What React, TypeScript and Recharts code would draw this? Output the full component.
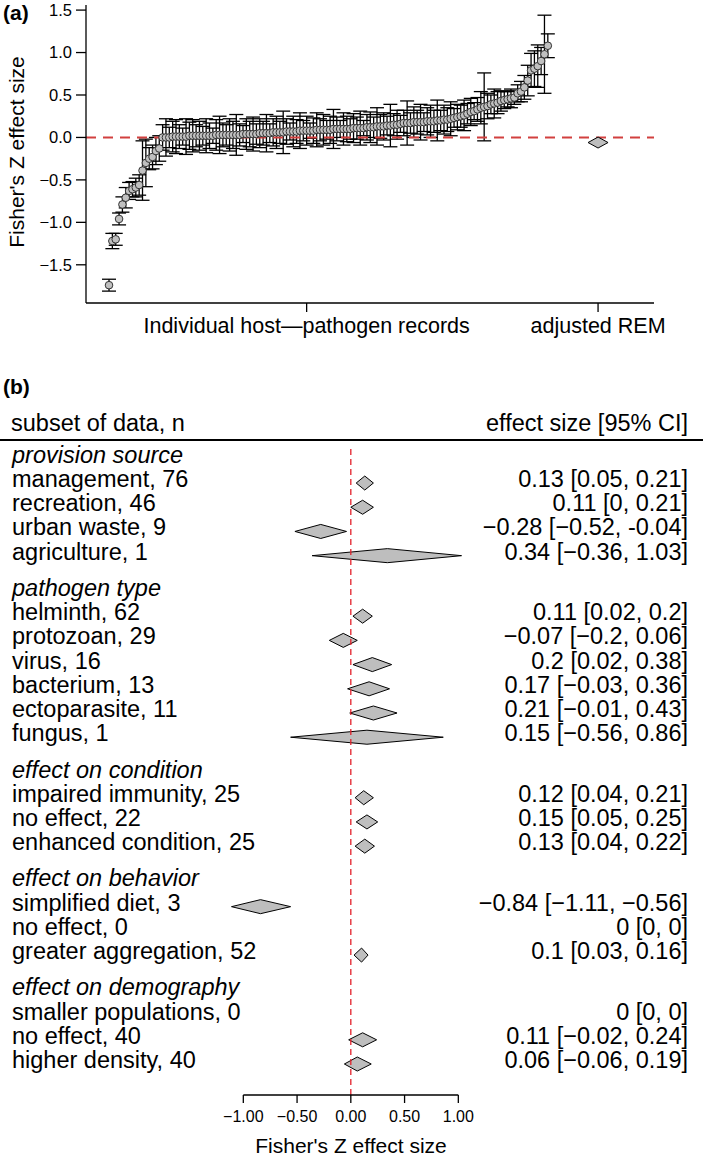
import React from 'react';
import { ScatterChart, Scatter, ComposedChart, Area, XAxis, YAxis, ErrorBar, ReferenceLine } from 'recharts';

const FONT = '"Liberation Sans", Arial, Helvetica, sans-serif';

// ---- panel (a): individual host-pathogen records, sorted by effect size
const recordEffects = [
    -1.74, -1.22, -1.2, -0.96, -0.79, -0.71, -0.63, -0.61, -0.59, -0.56, -0.39, -0.3, -0.25, -0.23, -0.16, -0.13,
    0.0, 0.0, 0.0, 0.01, 0.01, 0.01, 0.01, 0.01, 0.02, 0.02, 0.02, 0.02,
    0.02, 0.02, 0.02, 0.02, 0.03, 0.03, 0.03, 0.03, 0.03, 0.03, 0.03, 0.03, 0.04, 0.04, 0.04,
    0.04, 0.04, 0.05, 0.05, 0.05, 0.05, 0.06, 0.06, 0.06, 0.06, 0.07, 0.07, 0.07, 0.07, 0.08,
    0.08, 0.08, 0.08, 0.08, 0.09, 0.09, 0.09, 0.09, 0.09, 0.1, 0.1, 0.1, 0.1, 0.1, 0.1,
    0.11, 0.11, 0.11, 0.11, 0.12, 0.12, 0.12, 0.13, 0.13, 0.13, 0.14, 0.14, 0.15, 0.15, 0.16,
    0.17, 0.17, 0.17, 0.18, 0.18, 0.18, 0.18, 0.19, 0.19, 0.19, 0.2, 0.2, 0.21, 0.21, 0.22, 0.23, 0.24,
    0.25, 0.26, 0.28, 0.3, 0.31, 0.33, 0.35, 0.36, 0.37, 0.39, 0.4, 0.41, 0.43, 0.44, 0.45, 0.46, 0.47,
    0.52, 0.54, 0.59, 0.67, 0.79, 0.81, 0.84, 0.9, 0.98, 1.08,
];
// half-width of each 95% CI
const recordErrors = [
    0.07, 0.09, 0.07, 0.07, 0.09, 0.12, 0.1, 0.09, 0.11, 0.12, 0.35, 0.28, 0.13, 0.14, 0.16, 0.15,
    0.15, 0.22, 0.12, 0.18, 0.2, 0.14, 0.1, 0.21, 0.16, 0.19, 0.13, 0.17,
    0.11, 0.2, 0.15, 0.09, 0.18, 0.22, 0.14, 0.12, 0.19, 0.16, 0.24, 0.13, 0.1, 0.18, 0.15,
    0.2, 0.12, 0.17, 0.14, 0.22, 0.11, 0.16, 0.19, 0.13, 0.25, 0.15, 0.1, 0.18, 0.14, 0.21,
    0.12, 0.17, 0.09, 0.15, 0.2, 0.13, 0.18, 0.11, 0.16, 0.23, 0.14, 0.1, 0.19, 0.15, 0.12,
    0.17, 0.13, 0.2, 0.09, 0.15, 0.18, 0.12, 0.22, 0.14, 0.16, 0.11, 0.25, 0.13, 0.17, 0.1,
    0.15, 0.26, 0.12, 0.18, 0.14, 0.21, 0.11, 0.16, 0.19, 0.13, 0.24, 0.12, 0.17, 0.14, 0.2, 0.11, 0.15,
    0.13, 0.18, 0.12, 0.16, 0.1, 0.14, 0.19, 0.4, 0.15, 0.11, 0.17, 0.13, 0.12, 0.1, 0.09, 0.11, 0.08,
    0.1, 0.12, 0.14, 0.18, 0.2, 0.21, 0.25, 0.16, 0.46, 0.14,
];
const remEffect = -0.06;
const remPosition = 146;
const xTickPositionsA = [59, remPosition];
const xTickLabelsA = ['Individual host\u2014pathogen records', 'adjusted REM'];
const yTicksA = [-1.5, -1, -0.5, 0, 0.5, 1, 1.5];

// ---- panel (b): subsets
const groupNames = ['provision source', 'pathogen type', 'effect on condition', 'effect on behavior', 'effect on demography'];
const subsetNames = [
    ['management', 'recreation', 'urban waste', 'agriculture'],
    ['helminth', 'protozoan', 'virus', 'bacterium', 'ectoparasite', 'fungus'],
    ['impaired immunity', 'no effect', 'enhanced condition'],
    ['simplified diet', 'no effect', 'greater aggregation'],
    ['smaller populations', 'no effect', 'higher density'],
];
const subsetN = [[76, 46, 9, 1], [62, 29, 16, 13, 11, 1], [25, 22, 25], [3, 0, 52], [0, 40, 40]];
const estimates = [[0.13, 0.11, -0.28, 0.34], [0.11, -0.07, 0.2, 0.17, 0.21, 0.15], [0.12, 0.15, 0.13], [-0.84, 0, 0.1], [0, 0.11, 0.06]];
const ciLow = [[0.05, 0, -0.52, -0.36], [0.02, -0.2, 0.02, -0.03, -0.01, -0.56], [0.04, 0.05, 0.04], [-1.11, 0, 0.03], [0, -0.02, -0.06]];
const ciHigh = [[0.21, 0.21, -0.04, 1.03], [0.2, 0.06, 0.38, 0.36, 0.43, 0.86], [0.21, 0.25, 0.22], [-0.56, 0, 0.16], [0, 0.24, 0.19]];
const ciLabels = [
    ['0.13 [0.05, 0.21]', '0.11 [0, 0.21]', '\u22120.28 [\u22120.52, -0.04]', '0.34 [\u22120.36, 1.03]'],
    ['0.11 [0.02, 0.2]', '\u22120.07 [\u22120.2, 0.06]', '0.2 [0.02, 0.38]', '0.17 [\u22120.03, 0.36]', '0.21 [\u22120.01, 0.43]', '0.15 [\u22120.56, 0.86]'],
    ['0.12 [0.04, 0.21]', '0.15 [0.05, 0.25]', '0.13 [0.04, 0.22]'],
    ['\u22120.84 [\u22121.11, \u22120.56]', '0 [0, 0]', '0.1 [0.03, 0.16]'],
    ['0 [0, 0]', '0.11 [\u22120.02, 0.24]', '0.06 [\u22120.06, 0.19]'],
];
const xTicksB = [-1, -0.5, 0, 0.5, 1];

const GROUP_GAP = 1.5;
const DIAMOND_HALF = 0.29;
const Y_DOMAIN_B: [number, number] = [-1.53, 25.28];

type Row = { pos: number; label: string; header: boolean; ci?: string; n?: number; est?: number; lo?: number; hi?: number };
const rows: Row[] = [];
let start = 0;
groupNames.forEach((g, gi) => {
    rows.push({ pos: start - 1, label: g, header: true });
    subsetNames[gi].forEach((name, k) => {
        rows.push({
            pos: start + k,
            label: `${name}, ${subsetN[gi][k]}`,
            header: false,
            ci: ciLabels[gi][k],
            n: subsetN[gi][k],
            est: estimates[gi][k],
            lo: ciLow[gi][k],
            hi: ciHigh[gi][k],
        });
    });
    start += subsetNames[gi].length + GROUP_GAP;
});

const records = recordEffects.map((v, i) => ({ i, v, err: recordErrors[i] }));
const rem = [{ i: remPosition, v: remEffect }];

const minus = (s: string) => s.replace('-', '\u2212');

function PointShape(props: any) {
    const { cx, cy } = props;
    return <circle cx={cx} cy={cy} r={3.8} fill="#c0c0c0" stroke="#333" strokeWidth={1} />;
}

function RemShape(props: any) {
    const { cx, cy } = props;
    return <polygon points={`${cx - 10},${cy} ${cx},${cy - 5.5} ${cx + 10},${cy} ${cx},${cy + 5.5}`} fill="#bebebe" stroke="#000" strokeWidth={1} />;
}

// left label + right CI text for each row of panel (b)
function RowTick(props: any) {
    const { y, payload } = props;
    const row = rows.find(r => Math.abs(r.pos - payload.value) < 1e-6);
    if (!row) return null;
    return (
        <g>
            <text x={12} y={y - 4} dominantBaseline="central" fontSize={23.5} fontFamily={FONT} fontStyle={row.header ? 'italic' : 'normal'} fill="#000">
                {row.label}
            </text>
            {row.ci && (
                <text x={688} y={y - 4} dominantBaseline="central" textAnchor="end" fontSize={23.5} fontFamily={FONT} fill="#000">
                    {row.ci}
                </text>
            )}
        </g>
    );
}

export default function App() {
    const diamondRows = rows.filter(r => !r.header && (r.n ?? 0) > 0);
    return (
        <div style={{ position: 'absolute', left: 0, top: 0, width: 703, height: 1155, background: '#fff', fontFamily: FONT, color: '#000' }}>
            {/* panel (a) */}
            <div style={{ position: 'absolute', left: 3, top: 1, fontSize: 21, fontWeight: 'bold' }}>(a)</div>
            <div style={{ position: 'absolute', left: 0, top: 0 }}>
                <ScatterChart width={703} height={360} margin={{ top: 5, right: 49, bottom: 0, left: 0 }}>
                    <XAxis
                        type="number"
                        dataKey="i"
                        domain={[-6.87, 162.7]}
                        allowDataOverflow
                        ticks={xTickPositionsA}
                        interval={0}
                        tickFormatter={(v: number) => xTickLabelsA[xTickPositionsA.indexOf(v)] ?? ''}
                        tickSize={9}
                        tickMargin={6}
                        height={57}
                        stroke="#000"
                        strokeWidth={1.3}
                        tick={{ fontSize: 21.5, fill: '#000', fontFamily: FONT }}
                    />
                    <YAxis
                        type="number"
                        dataKey="v"
                        domain={[-1.95, 1.56]}
                        allowDataOverflow
                        ticks={yTicksA}
                        interval={0}
                        width={86}
                        tickSize={10}
                        tickMargin={4}
                        stroke="#000"
                        strokeWidth={1.3}
                        tickFormatter={(v: number) => minus(v.toFixed(1))}
                        tick={{ fontSize: 16.5, fill: '#000', fontFamily: FONT }}
                    />
                    <Scatter data={records} shape={PointShape} isAnimationActive={false}>
                        <ErrorBar dataKey="err" direction="y" width={7} stroke="#000" strokeWidth={1.3} />
                    </Scatter>
                    <ReferenceLine y={0} stroke="#d2403f" strokeWidth={2} strokeDasharray="10 7" />
                    <Scatter data={rem} shape={RemShape} isAnimationActive={false} />
                </ScatterChart>
            </div>
            <div
                style={{
                    position: 'absolute',
                    left: 17,
                    top: 152,
                    fontSize: 21,
                    whiteSpace: 'nowrap',
                    transform: 'translate(-50%, -50%) rotate(-90deg)',
                }}
            >
                Fisher's Z effect size
            </div>

            {/* panel (b) */}
            <div style={{ position: 'absolute', left: 3, top: 375, fontSize: 21, fontWeight: 'bold' }}>(b)</div>
            <div style={{ position: 'absolute', left: 11, top: 423, fontSize: 23.5, transform: 'translateY(-50%)', whiteSpace: 'nowrap' }}>
                subset of data, n
            </div>
            <div style={{ position: 'absolute', right: 15, top: 423, fontSize: 23.5, transform: 'translateY(-50%)', whiteSpace: 'nowrap' }}>
                effect size [95% CI]
            </div>
            <div style={{ position: 'absolute', left: 0, top: 439, width: 703, height: 2, background: '#000' }} />
            <div style={{ position: 'absolute', left: 0, top: 440 }}>
                <ComposedChart width={703} height={715} margin={{ top: 6, right: 0, bottom: 0, left: 0 }}>
                    <XAxis
                        type="number"
                        dataKey="x"
                        domain={[-3.254, 3.276]}
                        allowDataOverflow
                        ticks={xTicksB}
                        interval={0}
                        axisLine={false}
                        tickSize={8}
                        tickMargin={8}
                        height={60}
                        tickLine={{ stroke: '#000', strokeWidth: 1.3 }}
                        tickFormatter={(v: number) => minus(v.toFixed(2))}
                        tick={{ fontSize: 16, fill: '#000', fontFamily: FONT }}
                    />
                    <YAxis
                        type="number"
                        domain={Y_DOMAIN_B}
                        allowDataOverflow
                        reversed
                        ticks={rows.map(r => r.pos)}
                        interval={0}
                        width={1}
                        axisLine={false}
                        tickLine={false}
                        tick={RowTick}
                    />
                    <ReferenceLine x={0} stroke="#e3202a" strokeWidth={1.3} strokeDasharray="6 4" />
                    {diamondRows.map((r, k) => (
                        <Area
                            key={k}
                            data={[
                                { x: r.lo, r: [r.pos, r.pos] },
                                { x: r.est, r: [r.pos - DIAMOND_HALF, r.pos + DIAMOND_HALF] },
                                { x: r.hi, r: [r.pos, r.pos] },
                            ]}
                            dataKey="r"
                            type="linear"
                            fill="#bebebe"
                            fillOpacity={1}
                            stroke="#000"
                            strokeWidth={1}
                            dot={false}
                            activeDot={false}
                            isAnimationActive={false}
                        />
                    ))}
                    <ReferenceLine
                        segment={[{ x: -1, y: Y_DOMAIN_B[1] }, { x: 1, y: Y_DOMAIN_B[1] }]}
                        stroke="#000"
                        strokeWidth={1.3}
                        ifOverflow="visible"
                    />
                </ComposedChart>
            </div>
            <div style={{ position: 'absolute', left: 351, top: 1146, fontSize: 21, transform: 'translate(-50%, -50%)', whiteSpace: 'nowrap' }}>
                Fisher's Z effect size
            </div>
        </div>
    );
}
